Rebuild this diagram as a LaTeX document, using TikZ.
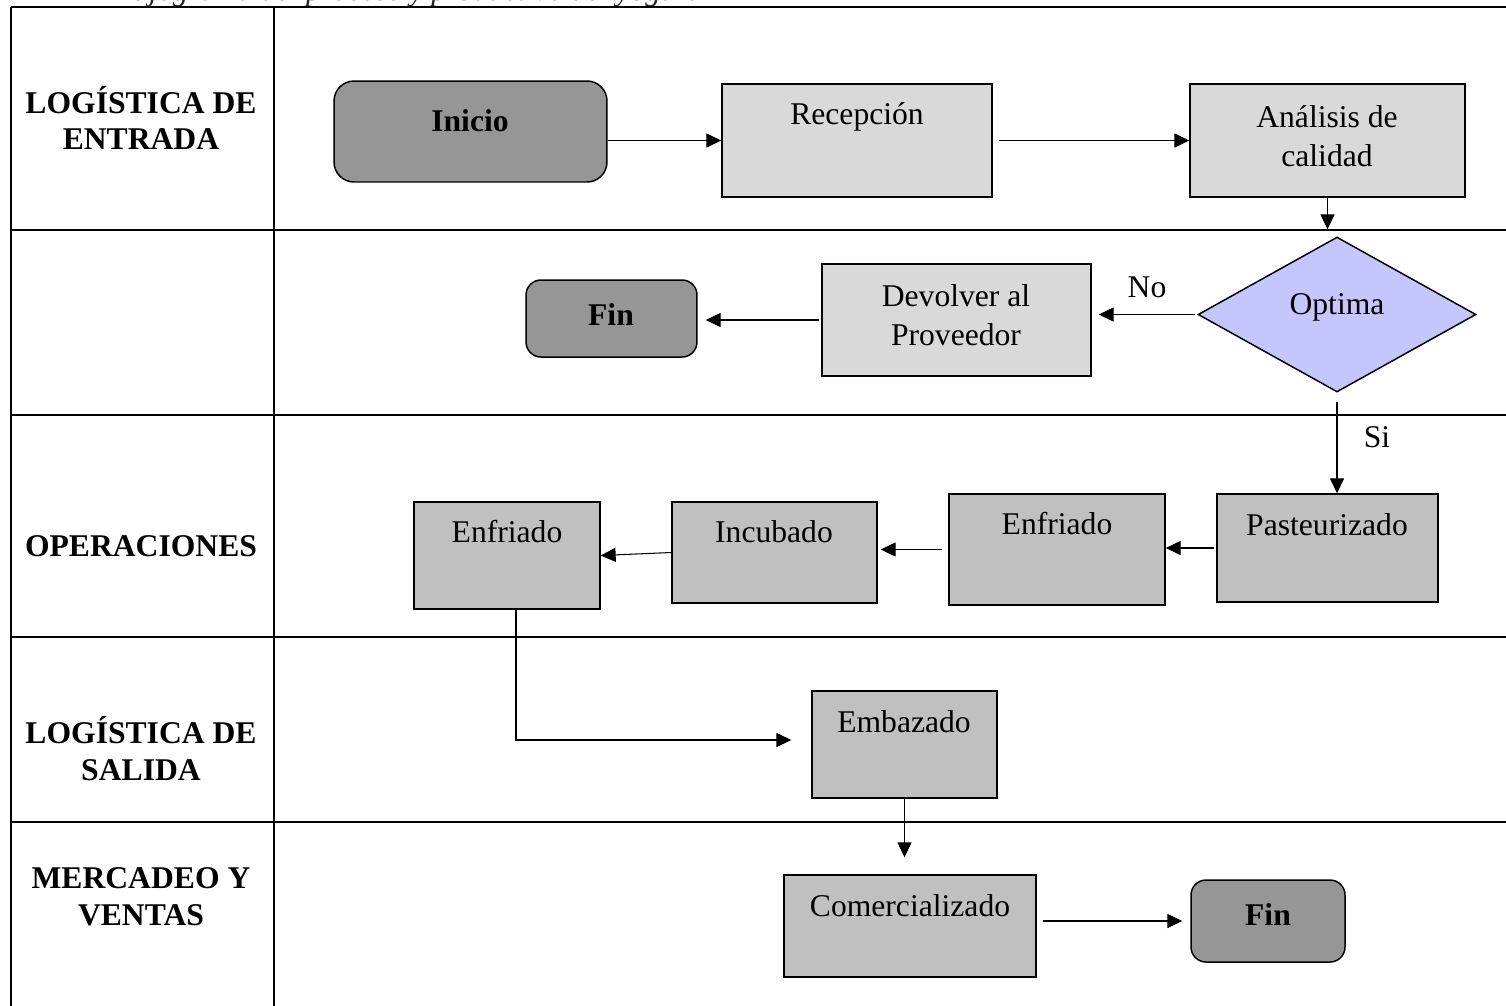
\documentclass[tikz,border=0pt]{standalone}
\usepackage{fontspec}
\setmainfont{Liberation Serif}
\usetikzlibrary{arrows.meta,shapes.geometric}
\definecolor{dgray}{RGB}{150,150,150}
\definecolor{lgray}{RGB}{217,217,217}
\definecolor{mgray}{RGB}{192,192,192}
\definecolor{lav}{RGB}{198,198,255}
\begin{document}
\begin{tikzpicture}[x=0.02cm,y=-0.02cm,
  font=\fontsize{18}{22}\selectfont,
  tbl/.style={line width=1.2pt},
  boxbase/.style={draw, line width=0.85pt, inner sep=0pt},
  termbox/.style={boxbase, fill=dgray, rounded corners=0.4cm},
  lbox/.style={boxbase, fill=lgray},
  mbox/.style={boxbase, fill=mgray},
  decbox/.style={boxbase, diamond, fill=lav},
  txt/.style={inner sep=0pt, align=center},
  txtb/.style={txt, font=\fontsize{18}{22}\selectfont\bfseries},
  lab/.style={inner sep=0pt, align=center, font=\fontsize{18}{21}\selectfont\bfseries},
  arr/.style={line width=0.6pt, -{Triangle[length=8.5pt,width=8pt]}},
  conn/.style={line width=0.6pt}
]
\useasboundingbox (0,0) rectangle (1506,1005);
\clip (0,0) rectangle (1506,1005);

% cut-off title
\node[anchor=base west, inner sep=0pt, font=\itshape\fontsize{17.5}{20}\selectfont, text=black!85] (title) at (106,0.5) {Flujograma del proceso y productivo del yogurt};

% table
\draw[tbl] (11,7) -- (1520,7);
\draw[tbl] (11,7) -- (11,1020);
\draw[tbl] (274,7) -- (274,1020);
\draw[tbl] (11,230) -- (1520,230);
\draw[tbl] (11,415) -- (1520,415);
\draw[tbl] (11,637) -- (1520,637);
\draw[tbl] (11,822) -- (1520,822);

% lane labels
\node[lab] (lane1) at (141,118) {LOGÍSTICA DE\\ENTRADA};
\node[lab] (lane3) at (141,546) {OPERACIONES};
\node[lab] (lane4) at (141,749) {LOGÍSTICA DE\\SALIDA};
\node[lab] (lane5) at (141,897) {MERCADEO Y\\VENTAS};

% row 1
\node[termbox, minimum width=5.46cm, minimum height=2.02cm] (ini) at (470.5,131.5) {};
\node[txtb] (iniT) at (470,121) {Inicio};
\node[lbox, minimum width=5.4cm, minimum height=2.26cm] (rec) at (857,140.5) {};
\node[txt] (recT) at (857,117) {Recepción};
\node[lbox, minimum width=5.5cm, minimum height=2.26cm] (ana) at (1327.5,140.5) {};
\node[txt] (anaT) at (1327,136) {Análisis de\\calidad};

% row 2
\node[decbox, minimum width=5.56cm, minimum height=3.1cm] (opt) at (1337,314.5) {};
\node[txt] (optT) at (1337,307) {Optima};
\node[lbox, minimum width=5.38cm, minimum height=2.24cm] (dev) at (956.5,320) {};
\node[txt] (devT) at (956,315) {Devolver al\\Proveedor};
\node[termbox, minimum width=3.42cm, minimum height=1.54cm, rounded corners=0.3cm] (fin1) at (611.5,318.5) {};
\node[txtb] (fin1T) at (611,315) {Fin};
\node[txt] (no) at (1147,287) {No};
\node[txt] (si) at (1377,437) {Si};

% row 3
\node[mbox, minimum width=4.42cm, minimum height=2.16cm] (past) at (1327.5,548) {};
\node[txt] (pastT) at (1327,525) {Pasteurizado};
\node[mbox, minimum width=4.32cm, minimum height=2.22cm] (enfR) at (1057,549.5) {};
\node[txt] (enfRT) at (1057,524) {Enfriado};
\node[mbox, minimum width=4.1cm, minimum height=2.02cm] (inc) at (774.5,552.5) {};
\node[txt] (incT) at (774,532) {Incubado};
\node[mbox, minimum width=3.72cm, minimum height=2.14cm] (enfL) at (507,555.5) {};
\node[txt] (enfLT) at (507,532) {Enfriado};

% row 4
\node[mbox, minimum width=3.7cm, minimum height=2.14cm] (emb) at (904.5,744.5) {};
\node[txt] (embT) at (904,722) {Embazado};

% row 5
\node[mbox, minimum width=5.04cm, minimum height=2.04cm] (com) at (910,926) {};
\node[txt] (comT) at (910,906) {Comercializado};
\node[termbox, minimum width=3.08cm, minimum height=1.64cm, rounded corners=0.3cm] (fin2) at (1268,921) {};
\node[txtb] (fin2T) at (1268,915) {Fin};

% connectors
\draw[arr] (ini.east |- rec.west) -- (rec.west);
\draw[arr, shorten <=0.12cm] (rec.east) -- (ana.west);
\draw[arr, shorten >=0.14cm] (ana.south) -- (ana.south |- opt.north);
\draw[arr, shorten <=0.04cm, shorten >=0.14cm] (opt.west) -- (opt.west -| dev.east);
\draw[arr, shorten <=0.04cm, shorten >=0.16cm] (dev.west) -- (dev.west -| fin1.east);
\draw[arr, shorten <=0.18cm] (opt.south) -- (opt.south |- past.north);
\draw[arr, shorten <=0.04cm] (past.west) -- (past.west -| enfR.east);
\draw[arr, shorten <=0.12cm, shorten >=0.06cm] (enfR.west) -- (enfR.west -| inc.east);
\draw[arr] (inc.west) -- (enfL.east);
\draw[arr, shorten >=0.4cm] ([xshift=0.18cm]enfL.south) |- ([yshift=0.09cm]emb.west);
\draw[arr, shorten >=0.34cm] (emb.south) -- (emb.south |- com.north);
\draw[arr, shorten <=0.12cm, shorten >=0.16cm] (com.east |- fin2.west) -- (fin2.west);
\end{tikzpicture}
\end{document}
